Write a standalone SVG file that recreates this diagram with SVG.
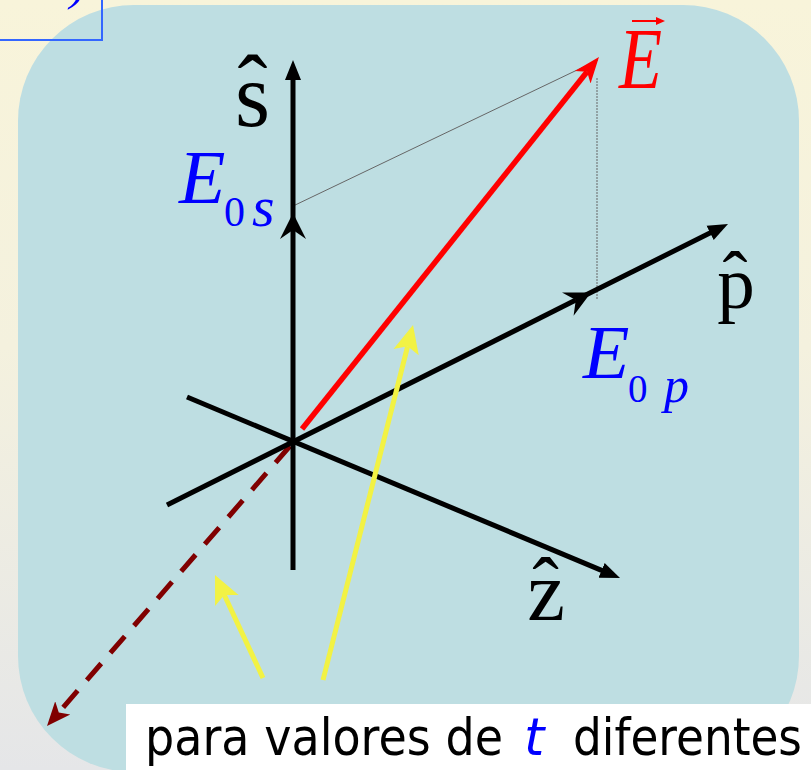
<svg xmlns="http://www.w3.org/2000/svg" width="811" height="770" viewBox="0 0 811 770">
<defs>
<linearGradient id="bg" x1="0" y1="0" x2="0" y2="1">
<stop offset="0" stop-color="#F8F4DA"/>
<stop offset="0.45" stop-color="#F4F1DE"/>
<stop offset="1" stop-color="#E5E6E8"/>
</linearGradient>
<marker id="hSm" markerUnits="userSpaceOnUse" viewBox="0 -9 20 18" markerWidth="20" markerHeight="18" refX="2" refY="0" orient="auto">
<path d="M0,-8 L20,0 L0,8 z" fill="#000"/>
</marker>
<marker id="hMid" markerUnits="userSpaceOnUse" viewBox="0 -14 26 28" markerWidth="26" markerHeight="28" refX="9" refY="0" orient="auto">
<path d="M0,-13 L26,0 L0,13 L9,0 z" fill="#000"/>
</marker>
<marker id="hRed" markerUnits="userSpaceOnUse" viewBox="0 -11 26 22" markerWidth="26" markerHeight="22" refX="7" refY="0" orient="auto">
<path d="M0,-10 L26,0 L0,10 L7,0 z" fill="#FF0000"/>
</marker>
<marker id="hRedSm" markerUnits="userSpaceOnUse" viewBox="0 -5 9 10" markerWidth="9" markerHeight="10" refX="1" refY="0" orient="auto">
<path d="M0,-4 L9,0 L0,4 z" fill="#FF0000"/>
</marker>
<marker id="hYel" markerUnits="userSpaceOnUse" viewBox="0 -14 28 28" markerWidth="28" markerHeight="28" refX="6" refY="0" orient="auto">
<path d="M0,-13 L28,0 L0,13 L6,0 z" fill="#F2F244"/>
</marker>
<marker id="hDk" markerUnits="userSpaceOnUse" viewBox="0 -11 24 22" markerWidth="24" markerHeight="22" refX="6" refY="0" orient="auto">
<path d="M0,-10 L24,0 L0,10 L6,0 z" fill="#800000"/>
</marker>
</defs>
<style>
.ax{stroke:#000;stroke-width:5;fill:none}
.thin{stroke:#666;stroke-width:1;fill:none}
.yel{stroke:#F2F244;stroke-width:5;fill:none}
.lbl{font-family:"Liberation Serif","Times New Roman",serif;fill:#000}
.math{font-family:"Liberation Serif","Times New Roman",serif;font-style:italic;fill:#0000FF}
.up{font-family:"Liberation Serif","Times New Roman",serif;fill:#0000FF}
.cap{font-family:"DejaVu Sans",Verdana,sans-serif;font-size:52px;fill:#000}
.capt{font-family:"DejaVu Sans",Verdana,sans-serif;font-size:52px;font-style:italic;fill:#0000FF}
</style>
<rect x="0" y="0" width="811" height="770" fill="url(#bg)"/>
<g id="panel">
<rect x="18" y="5" width="781" height="767" rx="116" ry="116" fill="#BEDEE2"/>
</g>
<g id="title-box">
<rect x="-2" y="-2" width="104" height="42" fill="none" stroke="#3366FF" stroke-width="2"/>
<text x="70" y="-1" class="math" font-size="50">)</text>
</g>
<g id="connectors">
<line class="thin" x1="291" y1="207" x2="598" y2="60"/>
<line class="thin" x1="597" y1="78" x2="597" y2="300" stroke-dasharray="2 1"/>
<line x1="290" y1="446" x2="58.8" y2="712.4" stroke="#800000" stroke-width="5" stroke-dasharray="22 14" marker-end="url(#hDk)"/>
<line class="ax" x1="293" y1="570" x2="293" y2="230" marker-end="url(#hMid)"/>
<line class="ax" x1="293" y1="230" x2="293" y2="78" marker-end="url(#hSm)"/>
<line class="ax" x1="167" y1="505" x2="575.8" y2="300.1" marker-end="url(#hMid)"/>
<line class="ax" x1="575.8" y1="300.1" x2="711.9" y2="232" marker-end="url(#hSm)"/>
<line class="ax" x1="187" y1="397" x2="603.4" y2="571.1" marker-end="url(#hSm)"/>
<line x1="302" y1="429" x2="587.1" y2="71.8" stroke="#FF0000" stroke-width="5.5" marker-end="url(#hRed)"/>
<line class="yel" x1="323" y1="680" x2="407.6" y2="346.3" marker-end="url(#hYel)"/>
<line class="yel" x1="263" y1="678" x2="224.3" y2="595" marker-end="url(#hYel)"/>
</g>
<g id="label-s">
<text class="lbl" x="252.5" y="118" font-size="90" text-anchor="middle">ˆ</text>
<text class="lbl" x="252.5" y="126" font-size="90" text-anchor="middle">s</text>
</g>
<g id="label-p">
<text class="lbl" x="735" y="303" font-size="75" text-anchor="middle">ˆ</text>
<text class="lbl" x="736" y="308" font-size="75" text-anchor="middle">p</text>
</g>
<g id="label-z">
<text class="lbl" x="545.5" y="613" font-size="80" text-anchor="middle">ˆ</text>
<text class="lbl" x="546" y="620" font-size="85" text-anchor="middle">z</text>
</g>
<g id="label-E">
<text transform="translate(619,88) scale(0.82,1)" x="0" y="0" font-family="Liberation Serif,Times New Roman,serif" font-style="italic" font-size="86" fill="#FF0000">E</text>
<line x1="632" y1="21" x2="657" y2="21" stroke="#FF0000" stroke-width="2" marker-end="url(#hRedSm)"/>
</g>
<g id="label-E0s">
<text class="math" x="179" y="203" font-size="76">E</text>
<text class="up" x="224" y="226" font-size="42">0</text>
<text class="math" x="252" y="226" font-size="58">s</text>
</g>
<g id="label-E0p">
<text class="math" x="583" y="378" font-size="76">E</text>
<text class="up" x="628" y="402" font-size="39">0</text>
<text class="math" x="664" y="402" font-size="50">p</text>
</g>
<g id="caption">
<rect x="126" y="704" width="690" height="70" fill="#FFFFFF"/>
<text class="cap" x="145" y="755" textLength="358" lengthAdjust="spacingAndGlyphs">para valores de</text>
<text class="capt" x="524" y="755">t</text>
<text class="cap" x="573" y="755" textLength="229" lengthAdjust="spacingAndGlyphs">diferentes</text>
</g>
</svg>
